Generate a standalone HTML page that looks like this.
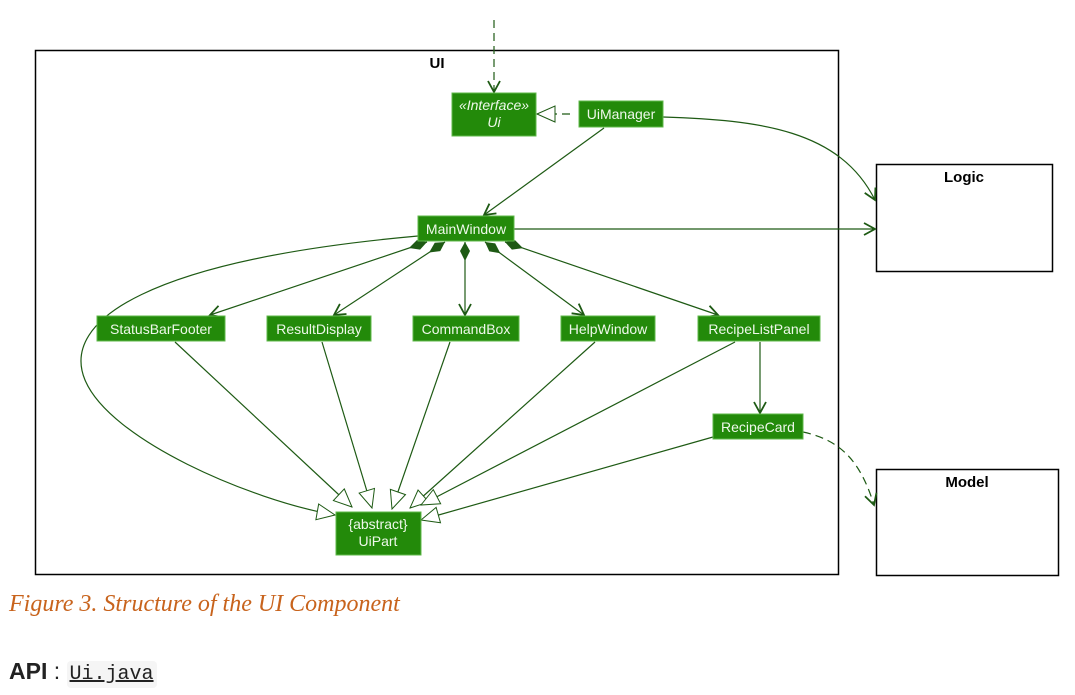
<!DOCTYPE html>
<html><head><style>
body{margin:0;background:#fff;width:1075px;height:695px;overflow:hidden;position:relative;font-family:"Liberation Sans",sans-serif}
.cap{position:absolute;left:9px;top:591px;font-family:"Liberation Serif",serif;font-style:italic;font-size:24px;color:#c8631c}
.api{position:absolute;left:9px;top:658px;font-size:23px;font-weight:bold;color:#222}
.api span{font-weight:normal}
.api code{font-family:"Liberation Mono",monospace;font-weight:normal;font-size:20px;background:#f5f5f5;padding:2px 3px;text-decoration:underline;border-radius:4px}
</style></head><body>
<svg width="1075" height="695" style="position:absolute;left:0;top:0" font-family="Liberation Sans, sans-serif">
<defs>
<marker id="a" markerWidth="14" markerHeight="14" refX="12" refY="7" orient="auto" markerUnits="userSpaceOnUse"><path d="M1,1 L12,7 L1,13" fill="none" stroke="#1e5a14" stroke-width="1.8"/></marker>
<marker id="t" markerWidth="20" markerHeight="18" refX="19" refY="9" orient="auto" markerUnits="userSpaceOnUse"><path d="M1,1 L19,9 L1,17 Z" fill="#fff" stroke="#1e5a14" stroke-width="1"/></marker>
<marker id="d" markerWidth="22" markerHeight="12" refX="1" refY="6" orient="auto" markerUnits="userSpaceOnUse"><path d="M1,6 L10,1 L20,6 L10,11 Z" fill="#1e5a14"/></marker>
</defs>
<rect x="35.5" y="50.5" width="803" height="524" fill="none" stroke="#000" stroke-width="1.5"/>
<text x="437" y="68" font-size="15" font-weight="bold" text-anchor="middle">UI</text>
<rect x="876.5" y="164.5" width="176" height="107" fill="#fff" stroke="#000" stroke-width="1.5"/>
<text x="964" y="182" font-size="15" font-weight="bold" text-anchor="middle">Logic</text>
<rect x="876.5" y="469.5" width="182" height="106" fill="#fff" stroke="#000" stroke-width="1.5"/>
<text x="967" y="487" font-size="15" font-weight="bold" text-anchor="middle">Model</text>
<g stroke="#1e5a14" stroke-width="1.2" fill="none">
<line x1="494" y1="20" x2="494" y2="92" stroke-dasharray="8,5" marker-end="url(#a)"/>
<line x1="570" y1="114" x2="537" y2="114" stroke-dasharray="8,5" marker-end="url(#t)"/>
<line x1="604" y1="128" x2="484" y2="215" marker-end="url(#a)"/>
<path d="M663,117 C760,120 840,130 875,200" marker-end="url(#a)"/>
<line x1="514" y1="229" x2="875" y2="229" marker-end="url(#a)"/>
<line x1="427" y1="242" x2="210" y2="315" marker-start="url(#d)" marker-end="url(#a)"/>
<line x1="445" y1="242" x2="334" y2="315" marker-start="url(#d)" marker-end="url(#a)"/>
<line x1="465" y1="242" x2="465" y2="315" marker-start="url(#d)" marker-end="url(#a)"/>
<line x1="485" y1="242" x2="584" y2="315" marker-start="url(#d)" marker-end="url(#a)"/>
<line x1="505" y1="242" x2="718" y2="315" marker-start="url(#d)" marker-end="url(#a)"/>
<line x1="760" y1="342" x2="760" y2="413" marker-end="url(#a)"/>
<path d="M803,432 C840,440 860,460 874,505" stroke-dasharray="8,5" marker-end="url(#a)"/>
<path d="M418,236 C150,260 60,320 85,380 C110,440 250,500 335,515" marker-end="url(#t)"/>
<line x1="175" y1="342" x2="352" y2="507" marker-end="url(#t)"/>
<line x1="322" y1="342" x2="372" y2="508" marker-end="url(#t)"/>
<line x1="450" y1="342" x2="392" y2="509" marker-end="url(#t)"/>
<line x1="595" y1="342" x2="410" y2="508" marker-end="url(#t)"/>
<line x1="735" y1="342" x2="421" y2="505" marker-end="url(#t)"/>
<line x1="713" y1="437" x2="421" y2="520" marker-end="url(#t)"/>
</g>
<g fill="#238a0a" stroke="#5fb84a" stroke-width="1">
<rect x="452" y="93" width="84" height="43"/>
<rect x="579" y="101" width="84" height="26"/>
<rect x="418" y="216" width="96" height="25"/>
<rect x="97" y="316" width="128" height="25"/>
<rect x="267" y="316" width="104" height="25"/>
<rect x="413" y="316" width="106" height="25"/>
<rect x="561" y="316" width="94" height="25"/>
<rect x="698" y="316" width="122" height="25"/>
<rect x="713" y="414" width="90" height="25"/>
<rect x="336" y="512" width="85" height="43"/>
</g>
<g fill="#eef8ea" font-size="14" text-anchor="middle">
<text x="494" y="110" font-style="italic">«Interface»</text>
<text x="494" y="127" font-style="italic">Ui</text>
<text x="621" y="119">UiManager</text>
<text x="466" y="234">MainWindow</text>
<text x="161" y="334">StatusBarFooter</text>
<text x="319" y="334">ResultDisplay</text>
<text x="466" y="334">CommandBox</text>
<text x="608" y="334">HelpWindow</text>
<text x="759" y="334">RecipeListPanel</text>
<text x="758" y="432">RecipeCard</text>
<text x="378" y="529">{abstract}</text>
<text x="378" y="546">UiPart</text>
</g>
</svg>
<div class="cap">Figure 3. Structure of the UI Component</div>
<div class="api">API <span>:</span> <code>Ui.java</code></div>
</body></html>
